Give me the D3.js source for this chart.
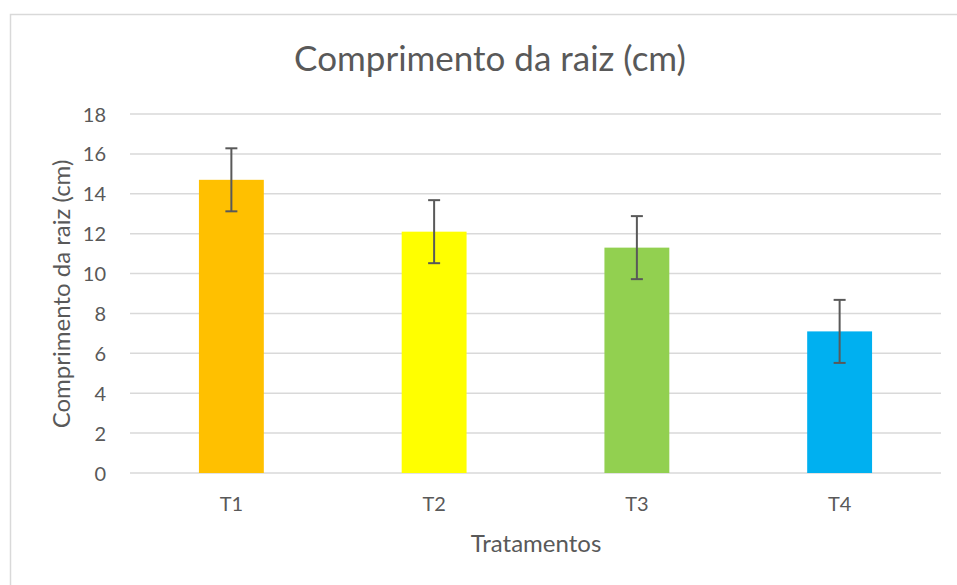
<!DOCTYPE html>
<html>
<head>
<meta charset="utf-8">
<script src="https://cdn.jsdelivr.net/npm/d3@7"></script>
<style>
  body { margin: 0; background: #fff; }
  text { font-family: Lato, "Open Sans", sans-serif; fill: #595959; }
</style>
</head>
<body>
<svg id="chart" width="957" height="585"></svg>
<script>
const categories = ["T1", "T2", "T3", "T4"];
const values = [14.7, 12.1, 11.3, 7.1];
const errors = [1.58, 1.58, 1.58, 1.58];
const colors = ["#ffc000", "#ffff00", "#92d050", "#00b0f0"];
const yTicks = [0, 2, 4, 6, 8, 10, 12, 14, 16, 18];

const svg = d3.select("#chart");

// chart area border
svg
  .append("rect")
  .attr("x", 10.5)
  .attr("y", 14.5)
  .attr("width", 960)
  .attr("height", 600)
  .attr("fill", "#fff")
  .attr("stroke", "#d9d9d9")
  .attr("stroke-width", 1.5);

const plot = { left: 130, right: 941, top: 114, bottom: 473 };

let x = d3
  .scaleBand()
  .domain(categories)
  .range([plot.left, plot.right])
  .paddingInner(0.68)
  .paddingOuter(0.34);

let y = d3.scaleLinear().domain([0, 18]).range([plot.bottom, plot.top]);

// gridlines
svg
  .append("g")
  .selectAll("line")
  .data(yTicks)
  .enter()
  .append("line")
  .attr("x1", plot.left)
  .attr("x2", plot.right)
  .attr("y1", (d) => y(d))
  .attr("y2", (d) => y(d))
  .attr("stroke", "#d9d9d9")
  .attr("stroke-width", 1.5);

// y axis labels
let yAxis = svg
  .append("g")
  .attr("transform", "translate(" + (plot.left - 24) + ",0)")
  .call(d3.axisLeft(y).tickValues(yTicks).tickSize(0).tickPadding(0));
yAxis.select(".domain").remove();
yAxis
  .selectAll("text")
  .style("font-family", "Lato, sans-serif")
  .style("font-size", "20px")
  .attr("fill", "#595959")
  .attr("dy", "0.35em");

// bars
svg
  .append("g")
  .selectAll("rect")
  .data(values)
  .enter()
  .append("rect")
  .attr("x", (d, i) => x(categories[i]))
  .attr("y", (d) => y(d))
  .attr("width", x.bandwidth())
  .attr("height", (d) => y(0) - y(d))
  .attr("fill", (d, i) => colors[i]);

// error bars
let err = svg
  .append("g")
  .selectAll("g")
  .data(values)
  .enter()
  .append("g")
  .attr("stroke", "#595959")
  .attr("stroke-width", 2);

const cx = (i) => x(categories[i]) + x.bandwidth() / 2;
err
  .append("line")
  .attr("x1", (d, i) => cx(i))
  .attr("x2", (d, i) => cx(i))
  .attr("y1", (d, i) => y(d + errors[i]))
  .attr("y2", (d, i) => y(d - errors[i]));
err
  .append("line")
  .attr("x1", (d, i) => cx(i) - 6)
  .attr("x2", (d, i) => cx(i) + 6)
  .attr("y1", (d, i) => y(d + errors[i]))
  .attr("y2", (d, i) => y(d + errors[i]));
err
  .append("line")
  .attr("x1", (d, i) => cx(i) - 6)
  .attr("x2", (d, i) => cx(i) + 6)
  .attr("y1", (d, i) => y(d - errors[i]))
  .attr("y2", (d, i) => y(d - errors[i]));

// x axis labels
let xAxis = svg
  .append("g")
  .attr("transform", "translate(0,511)")
  .call(d3.axisBottom(x).tickSize(0).tickPadding(0));
xAxis.select(".domain").remove();
xAxis
  .selectAll("text")
  .style("font-family", "Lato, sans-serif")
  .style("font-size", "20px")
  .attr("fill", "#595959")
  .attr("y", 0)
  .attr("dy", 0);

// titles
svg
  .append("text")
  .attr("x", 490)
  .attr("y", 71)
  .attr("text-anchor", "middle")
  .style("font-size", "35px")
  .text("Comprimento da raiz (cm)");

svg
  .append("text")
  .attr("x", 536)
  .attr("y", 552)
  .attr("text-anchor", "middle")
  .style("font-size", "24px")
  .text("Tratamentos");

svg
  .append("text")
  .attr("transform", "translate(70,294) rotate(-90)")
  .attr("text-anchor", "middle")
  .style("font-size", "24px")
  .text("Comprimento da raiz (cm)");
</script>
</body>
</html>
